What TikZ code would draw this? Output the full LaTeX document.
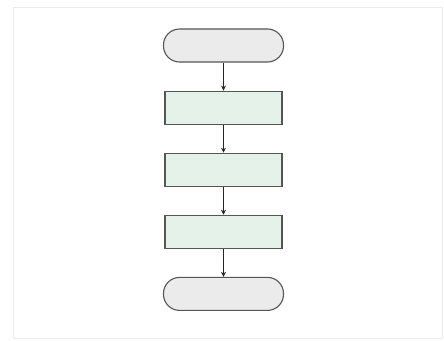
\documentclass[tikz,border=0pt]{standalone}
\usetikzlibrary{positioning,arrows.meta}
\definecolor{FlowGrey}{HTML}{EBEBEB}
\definecolor{FlowGreen}{HTML}{E4F2EA}
\definecolor{FlowLine}{HTML}{555555}

\begin{document}
\begin{tikzpicture}[x=1pt,y=1pt,line width=1.1pt,
    terminal/.style={draw=FlowLine,fill=FlowGrey,rounded corners=16pt,
      minimum width=120pt,minimum height=33pt},
    stepbox/.style={draw=FlowLine,fill=FlowGreen,
      minimum width=117pt,minimum height=33pt},
    flow/.style={-{Stealth[length=5pt,width=5pt]},draw=black!85,line width=0.9pt},
    node distance=28pt]
  \useasboundingbox (0,0) rectangle (444,-340);
  \draw[black!8,line width=1pt] (13,-7) rectangle (442,-338);
  \node[terminal] (start) at (223.5,-45.5) {};
  \node[stepbox,below=of start] (taskA) {};
  \node[stepbox,below=of taskA] (taskB) {};
  \node[stepbox,below=of taskB] (taskC) {};
  \node[terminal,below=of taskC] (stop) {};
  \draw[flow] (start) -- (taskA);
  \draw[flow] (taskA) -- (taskB);
  \draw[flow] (taskB) -- (taskC);
  \draw[flow] (taskC) -- (stop);
\end{tikzpicture}
\end{document}
